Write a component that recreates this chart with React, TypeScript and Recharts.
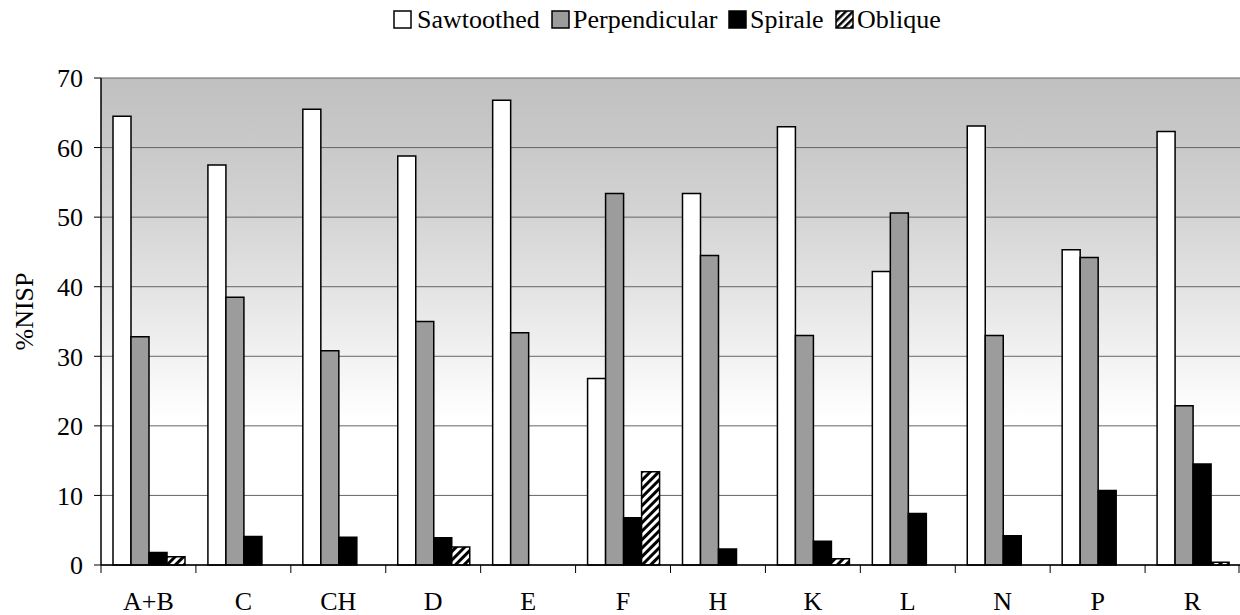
import React from 'react';
import { BarChart, Bar, XAxis, YAxis, CartesianGrid } from 'recharts';

const SITES = ['A+B', 'C', 'CH', 'D', 'E', 'F', 'H', 'K', 'L', 'N', 'P', 'R'];
const SAWTOOTHED = [64.5, 57.5, 65.5, 58.8, 66.8, 26.8, 53.4, 63.0, 42.2, 63.1, 45.3, 62.3];
const PERPENDICULAR = [32.8, 38.5, 30.8, 35.0, 33.4, 53.4, 44.5, 33.0, 50.6, 33.0, 44.2, 22.9];
const SPIRALE = [1.8, 4.1, 4.0, 3.9, 0, 6.8, 2.3, 3.4, 7.4, 4.2, 10.7, 14.5];
const OBLIQUE = [1.2, 0, 0, 2.6, 0, 13.4, 0, 0.9, 0, 0, 0, 0.4];
const Y_TICKS = [0, 10, 20, 30, 40, 50, 60, 70];

const data = SITES.map((site, i) => ({
  site,
  saw: SAWTOOTHED[i],
  perp: PERPENDICULAR[i],
  spir: SPIRALE[i],
  obl: OBLIQUE[i],
}));

const FONT = '"Liberation Serif", "Times New Roman", serif';
const HALF_BAND = 1139 / 12 / 2;

// legend entries, laid out like the original (box x, text x)
const LEGEND_ITEMS = [
  { label: 'Sawtoothed', fill: '#ffffff', bx: 394, tx: 417 },
  { label: 'Perpendicular', fill: '#9c9c9c', bx: 552, tx: 573 },
  { label: 'Spirale', fill: '#000000', bx: 729, tx: 750 },
  { label: 'Oblique', fill: 'url(#hatchLegend)', bx: 836, tx: 857 },
];

const LegendBox = () => (
  <svg width={1240} height={40} style={{ position: 'absolute', top: 0, left: 0 }}>
    <defs>
      <pattern id="hatchLegend" width={5} height={5} patternUnits="userSpaceOnUse" patternTransform="rotate(45)">
        <rect width={5} height={5} fill="#fff" />
        <rect width={2.5} height={5} fill="#000" />
      </pattern>
    </defs>
    {LEGEND_ITEMS.map(item => (
      <g key={item.label}>
        <rect x={item.bx} y={11} width={17} height={17} stroke="#000" strokeWidth={1.5} fill={item.fill} />
        <text x={item.tx} y={28} fontFamily={FONT} fontSize={26} fill="#000">{item.label}</text>
      </g>
    ))}
  </svg>
);

const XTick = (props: any) => {
  const { x, payload, index } = props;
  const axisY = 565;
  return (
    <g>
      <line x1={x - HALF_BAND} x2={x - HALF_BAND} y1={axisY} y2={axisY + 8} stroke="#000" strokeWidth={1} />
      {index === SITES.length - 1 && (
        <line x1={x + HALF_BAND - 1} x2={x + HALF_BAND - 1} y1={axisY} y2={axisY + 8} stroke="#000" strokeWidth={1} />
      )}
      <text x={x} y={axisY + 45} textAnchor="middle" fontFamily={FONT} fontSize={26} fill="#000">
        {payload.value}
      </text>
    </g>
  );
};

export default function App() {
  return (
    <div style={{ position: 'absolute', left: 0, top: 0, width: 1240, height: 615, background: '#fff' }}>
      <BarChart width={1240} height={615} data={data}
        margin={{ top: 78, right: 0, left: 0, bottom: 0 }}
        barCategoryGap={12} barGap={0}>
        <defs>
          <linearGradient id="bg" x1="0" y1="0" x2="0" y2="1">
            <stop offset="0%" stopColor="#c0c0c0" />
            <stop offset="14%" stopColor="#c9c9c9" />
            <stop offset="28%" stopColor="#d4d4d4" />
            <stop offset="43%" stopColor="#e3e3e3" />
            <stop offset="57%" stopColor="#f2f2f2" />
            <stop offset="70%" stopColor="#ffffff" />
            <stop offset="100%" stopColor="#ffffff" />
          </linearGradient>
          <pattern id="hatch" width={6} height={6} patternUnits="userSpaceOnUse" patternTransform="rotate(45)">
            <rect width={6} height={6} fill="#fff" />
            <rect width={3} height={6} fill="#000" />
          </pattern>
        </defs>
        <CartesianGrid vertical={false} stroke="#666" strokeWidth={1} fill="url(#bg)" fillOpacity={1} />
        <XAxis dataKey="site" axisLine={{ stroke: '#000', strokeWidth: 1.5 }} tickLine={false}
          tick={<XTick />} interval={0} height={50} />
        <YAxis domain={[0, 70]} ticks={Y_TICKS} width={101}
          axisLine={{ stroke: '#000', strokeWidth: 1.5 }} tickLine={{ stroke: '#000' }} tickSize={7}
          tick={{ fontFamily: FONT, fontSize: 26, fill: '#000' }} tickMargin={11}
          label={{ value: '%NISP', angle: -90, position: 'insideLeft', offset: 24, dy: -10, style: { fontFamily: FONT, fontSize: 26, fill: '#000', textAnchor: 'middle' } }} />
        <Bar dataKey="saw" name="Sawtoothed" fill="#ffffff" stroke="#000" strokeWidth={1.5} isAnimationActive={false} />
        <Bar dataKey="perp" name="Perpendicular" fill="#9c9c9c" stroke="#000" strokeWidth={1.5} isAnimationActive={false} />
        <Bar dataKey="spir" name="Spirale" fill="#000000" stroke="#000" strokeWidth={1.5} isAnimationActive={false} />
        <Bar dataKey="obl" name="Oblique" fill="url(#hatch)" stroke="#000" strokeWidth={1.5} isAnimationActive={false} />
      </BarChart>
      <LegendBox />
    </div>
  );
}
